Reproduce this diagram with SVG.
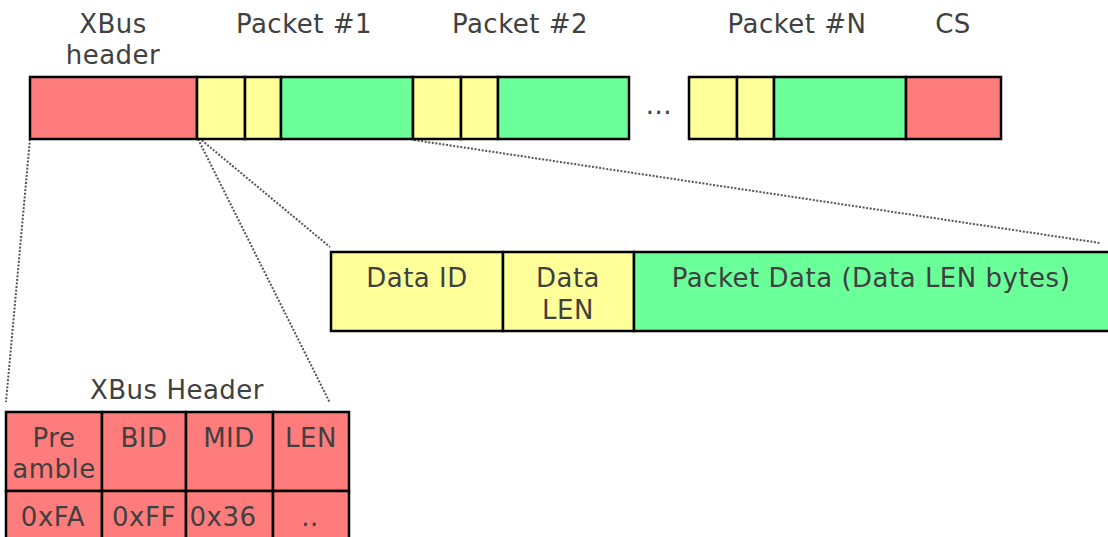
<svg xmlns="http://www.w3.org/2000/svg" width="1108" height="537" viewBox="0 0 1108 537">
<style>
text{font-family:"DejaVu Sans","Verdana",sans-serif;font-size:26px;fill:#404040;text-anchor:middle;letter-spacing:0.5px}
.r{fill:#FF7C7C;stroke:#000;stroke-width:2.5}
.y{fill:#FFFF99;stroke:#000;stroke-width:2.5}
.g{fill:#6AFF99;stroke:#000;stroke-width:2.5}
.d{stroke:#555;stroke-width:2;stroke-dasharray:2 1.6;fill:none}
</style>
<rect width="1108" height="537" fill="#fff"/>
<g id="labels">
<text x="113" y="33">XBus</text>
<text x="113" y="64">header</text>
<text x="304" y="33">Packet #1</text>
<text x="520" y="33">Packet #2</text>
<text x="797" y="33">Packet #N</text>
<text x="953" y="33">CS</text>
<text x="659" y="114">...</text>
</g>
<g id="connectors">
<line class="d" x1="30" y1="139" x2="6" y2="402"/>
<line class="d" x1="198" y1="139" x2="330" y2="403"/>
<line class="d" x1="199" y1="138" x2="330" y2="247"/>
<line class="d" x1="414" y1="140" x2="1100" y2="243"/>
</g>
<g id="xbus-header-block"><rect class="r" x="30" y="77" width="167" height="62"/></g>
<g id="packet1">
<rect class="y" x="197" y="77" width="48" height="62"/>
<rect class="y" x="245" y="77" width="36" height="62"/>
<rect class="g" x="281" y="77" width="132" height="62"/>
</g>
<g id="packet2">
<rect class="y" x="413" y="77" width="48" height="62"/>
<rect class="y" x="461" y="77" width="37" height="62"/>
<rect class="g" x="498" y="77" width="131" height="62"/>
</g>
<g id="packetN">
<rect class="y" x="689" y="77" width="48" height="62"/>
<rect class="y" x="737" y="77" width="37" height="62"/>
<rect class="g" x="774" y="77" width="132" height="62"/>
</g>
<g id="cs"><rect class="r" x="906" y="77" width="95" height="62"/></g>
<g id="packet-detail">
<rect class="y" x="331" y="252" width="172" height="79"/>
<rect class="y" x="503" y="252" width="131" height="79"/>
<rect class="g" x="634" y="252" width="480" height="79"/>
<text x="417" y="287">Data ID</text>
<text x="568" y="287">Data</text>
<text x="568" y="319">LEN</text>
<text x="871" y="287">Packet Data (Data LEN bytes)</text>
</g>
<g id="xbus-header-table">
<text x="177" y="399">XBus Header</text>
<rect class="r" x="6" y="412" width="96" height="79"/>
<rect class="r" x="102" y="412" width="84" height="79"/>
<rect class="r" x="186" y="412" width="87" height="79"/>
<rect class="r" x="273" y="412" width="76" height="79"/>
<rect class="r" x="6" y="491" width="96" height="60"/>
<rect class="r" x="102" y="491" width="84" height="60"/>
<rect class="r" x="186" y="491" width="87" height="60"/>
<rect class="r" x="273" y="491" width="76" height="60"/>
<text x="54" y="447">Pre</text>
<text x="54" y="478">amble</text>
<text x="144" y="447">BID</text>
<text x="229" y="447">MID</text>
<text x="311" y="447">LEN</text>
<text x="53" y="526">0xFA</text>
<text x="144" y="526">0xFF</text>
<text x="223" y="526">0x36</text>
<text x="310" y="526">..</text>
</g>
</svg>
